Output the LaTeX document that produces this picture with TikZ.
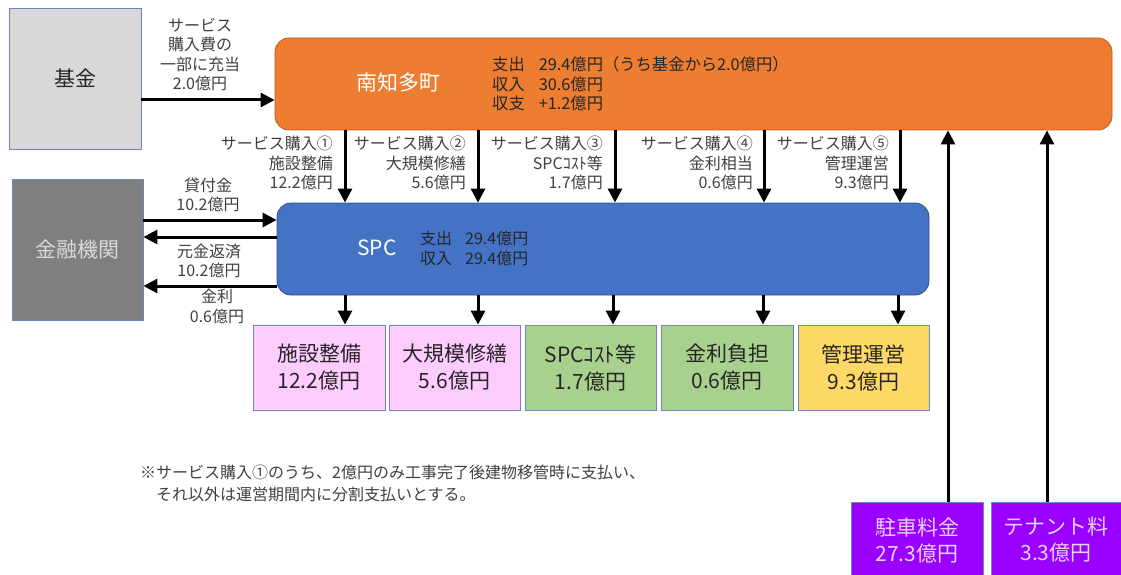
\documentclass[tikz,border=0pt]{standalone}
\usepackage{fontspec}
\setmainfont{Noto Sans CJK JP}
\usetikzlibrary{arrows.meta}
\definecolor{orangef}{HTML}{ED7D31}
\definecolor{oranged}{HTML}{C55A11}
\definecolor{bluef}{HTML}{4472C4}
\definecolor{blued}{HTML}{2F528F}
\definecolor{pinkf}{HTML}{FFCCFF}
\definecolor{greenf}{HTML}{A9D18E}
\definecolor{yellowf}{HTML}{FFD966}
\definecolor{purplef}{HTML}{9900FF}
\definecolor{purplet}{HTML}{E8D2FF}
\definecolor{grayl}{HTML}{D9D9D9}
\definecolor{graym}{HTML}{7F7F7F}
\definecolor{edgec}{HTML}{6F87B5}
\definecolor{lab}{HTML}{404040}
\definecolor{dark}{HTML}{262626}
\begin{document}
\begin{tikzpicture}[x=1pt,y=-1pt,
  arr/.style={-{Triangle[length=14pt,width=14pt]}, line width=3pt, black},
  lbl/.style={text=lab, font=\fontsize{16}{19.6}\selectfont, inner sep=0pt},
  big/.style={font=\fontsize{21}{27}\selectfont, align=center},
  box/.style={draw=edgec, line width=0.8pt, inner sep=0pt, big, text=dark},
  rbox/.style={line width=0.8pt, rounded corners=14pt, inner sep=0pt}]
\useasboundingbox (0,0) rectangle (1121,575);

% main boxes
\node[box, fill=grayl, minimum width=132pt, minimum height=141pt] (kikin) at (75,78.5) {基金};
\node[box, fill=graym, minimum width=131pt, minimum height=141pt, text=grayl] (bank) at (77.5,249.5) {金融機関};
\node[rbox, draw=oranged, fill=orangef, minimum width=837pt, minimum height=92pt] (town) at (693.5,84) {};
\node[big, text=white, inner sep=0pt] (townname) at (398,83) {南知多町};
\node[lbl, text=dark, anchor=west, font=\fontsize{16.3}{19.6}\selectfont] (towntxt) at (492,86) {\begin{tabular}{@{}l@{\hspace{14pt}}l@{}}支出&29.4億円（うち基金から2.0億円）\\収入&30.6億円\\収支&+1.2億円\end{tabular}};
\node[rbox, draw=blued, fill=bluef, minimum width=652pt, minimum height=92pt] (spc) at (603,249) {};
\node[big, text=white, inner sep=0pt] (spcname) at (377,248) {SPC};
\node[lbl, text=dark, anchor=west] (spctxt) at (420,250.5) {\begin{tabular}{@{}l@{\hspace{13pt}}l@{}}支出&29.4億円\\収入&29.4億円\end{tabular}};

% bottom boxes
\node[box, fill=pinkf, minimum width=132pt, minimum height=85pt] (b1) at (319,367.5) {施設整備\\12.2億円};
\node[box, fill=pinkf, minimum width=131pt, minimum height=85pt] (b2) at (454.5,367.5) {大規模修繕\\5.6億円};
\node[box, fill=greenf, minimum width=131pt, minimum height=85pt] (b3) at (590.5,367.5) {SPCｺｽﾄ等\\1.7億円};
\node[box, fill=greenf, minimum width=132pt, minimum height=85pt] (b4) at (727,367.5) {金利負担\\0.6億円};
\node[box, fill=yellowf, minimum width=131pt, minimum height=85pt] (b5) at (863.5,367.5) {管理運営\\9.3億円};

% revenue boxes
\node[box, fill=purplef, text=purplet, minimum width=132pt, minimum height=76pt, font=\fontsize{21}{26}\selectfont] (park) at (917,540) {駐車料金\\27.3億円};
\node[box, fill=purplef, text=purplet, minimum width=130pt, minimum height=76pt, font=\fontsize{21}{26}\selectfont] (tenant) at (1056,540) {テナント料\\3.3億円};

% helper coordinates
\coordinate (c1) at (345,0);
\coordinate (c2) at (478,0);
\coordinate (c3) at (615,0);
\coordinate (c4) at (764,0);
\coordinate (c5) at (900,0);
\coordinate (d3) at (613,0);
\coordinate (d4) at (763,0);
\coordinate (d5) at (898,0);
\coordinate (u1) at (948,0);
\coordinate (u2) at (1047,0);
\coordinate (r0) at (0,100);
\coordinate (r1) at (0,220);
\coordinate (r2) at (0,237);
\coordinate (r3) at (0,286);

% arrows
\draw[arr] (kikin.east |- r0) -- (town.west |- r0);
\draw[arr] (bank.east |- r1) -- (spc.west |- r1);
\draw[arr] (spc.west |- r2) -- (bank.east |- r2);
\draw[arr] (spc.west |- r3) -- (bank.east |- r3);

\draw[arr] (town.south -| c1) -- (spc.north -| c1);
\draw[arr] (town.south -| c2) -- (spc.north -| c2);
\draw[arr] (town.south -| c3) -- (spc.north -| c3);
\draw[arr] (town.south -| c4) -- (spc.north -| c4);
\draw[arr] (town.south -| c5) -- (spc.north -| c5);

\draw[arr] (spc.south -| c1) -- (b1.north -| c1);
\draw[arr] (spc.south -| c2) -- (b2.north -| c2);
\draw[arr] (spc.south -| d3) -- (b3.north -| d3);
\draw[arr] (spc.south -| d4) -- (b4.north -| d4);
\draw[arr] (spc.south -| d5) -- (b5.north -| d5);

\draw[arr] (park.north -| u1) -- (town.south -| u1);
\draw[arr] (tenant.north -| u2) -- (town.south -| u2);

% labels
\node[lbl, align=center] (lk) at (200,54.5) {サービス\\購入費の\\一部に充当\\2.0億円};
\node[lbl, align=right, anchor=east] (l1) at (333,163) {サービス購入①\\施設整備\\12.2億円};
\node[lbl, align=right, anchor=east] (l2) at (466,163) {サービス購入②\\大規模修繕\\5.6億円};
\node[lbl, align=right, anchor=east] (l3) at (603,163) {サービス購入③\\SPCｺｽﾄ等\\1.7億円};
\node[lbl, align=right, anchor=east] (l4) at (753,163) {サービス購入④\\金利相当\\0.6億円};
\node[lbl, align=right, anchor=east] (l5) at (889,163) {サービス購入⑤\\管理運営\\9.3億円};
\node[lbl, align=center] (lloan) at (208,195) {貸付金\\10.2億円};
\node[lbl, align=center] (lrepay) at (209,261) {元金返済\\10.2億円};
\node[lbl, align=center] (lint) at (217,306.5) {金利\\0.6億円};

\node[lbl, align=left, anchor=west, font=\fontsize{16}{22}\selectfont] (note) at (140,483) {※サービス購入①のうち、2億円のみ工事完了後建物移管時に支払い、\\　それ以外は運営期間内に分割支払いとする。};
\end{tikzpicture}
\end{document}
